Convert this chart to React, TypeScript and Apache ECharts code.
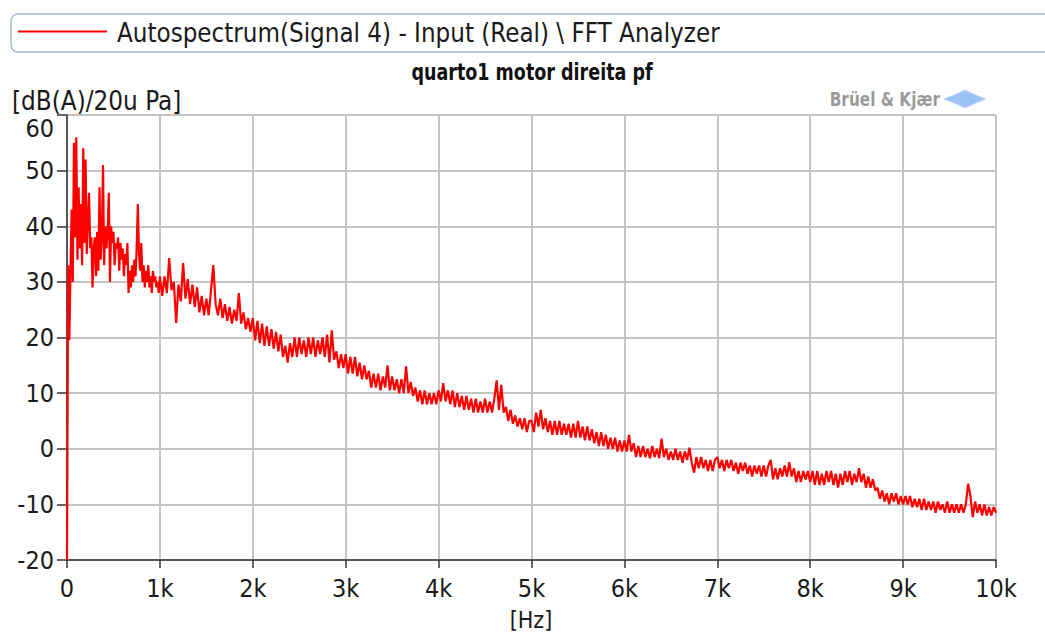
import React, { useEffect, useRef } from "react";
import * as echarts from "echarts";

const FONT = "'DejaVu Sans Condensed', 'DejaVu Sans', sans-serif";

// 0 – 1 kHz, 12.5 Hz resolution
const lowStep = 12.5;
const lowBand = [
  -20, 33, 19.5, 32, 43, 30, 55, 38, 56, 34, 47, 36, 44, 33, 54, 37, 52, 35, 41, 46,
  36, 38, 29, 36, 38, 31, 39, 32, 47, 34, 38, 51, 33, 40, 36, 39, 46, 30, 40, 37,
  39, 33, 37, 36, 38, 32, 37, 34, 36, 31, 35, 33, 37, 28, 32, 29, 33, 30, 34, 31,
  36, 44, 35, 32, 37, 30, 33, 29, 32, 30, 33, 29, 31, 28, 32, 30, 31, 29, 30, 28,
];

// 1 kHz – 10 kHz, 25 Hz resolution, one array per kHz
const highStep = 25;
const band1k = [
  31, 27.5, 31, 28, 34.3, 28.5, 30, 22.6, 29.5, 26.5, 33.4, 27, 30.5, 26, 29.5, 25.5, 29, 24.5, 27.5, 24,
  27, 24, 28.5, 33, 26, 24, 27, 23.5, 26, 23, 25.5, 22.5, 25, 23, 28, 22.5, 24.5, 21.5, 23.5, 21,
];
const band2k = [
  23.5, 19.5, 23, 19, 22.5, 18.5, 22, 18.5, 21.5, 18, 21, 17.5, 20.5, 16.5, 18.5, 15.5, 19, 16.5, 20, 16.5,
  20, 17, 19.5, 16.5, 20, 17, 20, 16.5, 19.5, 17, 20, 16.5, 20.5, 15.5, 21.3, 16, 17.5, 14.5, 17, 14.5,
];
const band3k = [
  17, 13.5, 16.5, 13.5, 16.5, 13, 15.5, 12.5, 15, 12.5, 14, 11, 13.5, 11, 13.5, 10.5, 13, 11, 15, 10.5,
  13, 10.5, 12.5, 10, 12.5, 10, 14.8, 10, 12, 9.5, 11, 8.5, 10.5, 8, 10.5, 8, 10, 8, 10, 8,
];
const band4k = [
  10.5, 8.5, 11.8, 8.5, 10.5, 8, 10.5, 7.5, 10, 7.5, 9.5, 7, 9.5, 7, 9, 6.5, 9, 6.5, 8.5, 6.5,
  9, 6.5, 8.5, 6.5, 9, 12.3, 7, 11.5, 6.5, 7.5, 5, 7, 4.5, 6, 4, 5.5, 3.5, 5.5, 3, 5,
];
const band5k = [
  5, 3, 6.5, 4, 7, 3.5, 5.5, 3, 5, 2.5, 5, 2.5, 5, 2.5, 4.5, 2.5, 4.5, 2, 4.5, 2,
  5, 2, 4, 1.5, 4, 1.5, 3.5, 1, 3, 0.5, 3, 0.5, 2.5, 0, 2, 0, 2, -0.5, 1.5, -0.5,
];
const band6k = [
  1.5, -0.5, 2.5, -0.5, 1, -1.5, 0.5, -1.5, 0.5, -1.5, 0, -1.7, 0.5, -1.5, 0, -1.7, 1.8, -1.5, 0, -2,
  -0.5, -2, 0, -2, -0.5, -2.5, -0.5, -2, 0.2, -2.5, -4.3, -1.5, -3.5, -1.5, -3.5, -2, -4, -2, -4, -2,
];
const band7k = [
  -1.5, -3.5, -2, -4, -2, -3.5, -2, -4, -2.5, -4.5, -2.5, -4, -2.5, -4.5, -3, -5, -3, -4.5, -3, -5,
  -3, -5, -3, -2, -5.5, -3.5, -5.5, -3.5, -5, -3, -5, -2.4, -5, -3.5, -6, -4, -6, -4, -5.5, -4,
];
const band8k = [
  -6, -4, -6.5, -4, -6.5, -4.5, -6.5, -4, -6, -4, -6.5, -4.5, -7, -4.5, -6.5, -4, -6, -4, -6.5, -4.5,
  -6, -3.5, -6, -4.5, -7, -5, -7, -5.5, -7.5, -7, -9, -7.5, -9.5, -8, -10, -8, -9.5, -8, -10, -8.5,
];
const band9k = [
  -10, -8.5, -10, -8.5, -10.5, -9, -10.5, -9, -11, -9, -11, -9.5, -11, -9.5, -11.5, -9.5, -11, -10, -11.5, -9.5,
  -11.5, -10, -11.5, -10, -11.5, -10, -11.5, -10, -6.3, -8.5, -12.3, -9.5, -11.5, -10, -12, -10, -12, -10.5, -12, -10.5,
  -11.5,
];

const xTicks = ["0", "1k", "2k", "3k", "4k", "5k", "6k", "7k", "8k", "9k", "10k"];

const seriesName = "Autospectrum(Signal 4) - Input (Real) \\ FFT Analyzer";
const chartTitle = "quarto1 motor direita pf";
const yName = "[dB(A)/20u Pa]";
const xName = "[Hz]";

function buildData(): [number, number][] {
  const out: [number, number][] = [];
  lowBand.forEach((v, i) => out.push([i * lowStep, v]));
  const high = [band1k, band2k, band3k, band4k, band5k, band6k, band7k, band8k, band9k];
  high.forEach((band, b) => {
    band.forEach((v, i) => out.push([1000 * (b + 1) + i * highStep, v]));
  });
  return out;
}

export default function App() {
  const ref = useRef<HTMLDivElement>(null);
  useEffect(() => {
    if (!ref.current) return;
    document.body.style.margin = "0";
    document.body.style.overflow = "hidden";
    const chart = echarts.init(ref.current, undefined, { renderer: "svg" });
    const plotLeft = 67;
    const plotRight = 996;
    chart.setOption({
      animation: false,
      backgroundColor: "#ffffff",
      grid: { left: plotLeft, right: 1045 - plotRight, top: 115, bottom: 73, containLabel: false },
      graphic: [
        {
          type: "rect",
          shape: { x: 11, y: 14, width: 2000, height: 38, r: 7 },
          style: { fill: "#ffffff", stroke: "#a9bad2", lineWidth: 1.5 },
        },
        {
          type: "line",
          shape: { x1: 18, y1: 31.5, x2: 107, y2: 31.5 },
          style: { stroke: "#ff0000", lineWidth: 2 },
        },
        {
          type: "text",
          x: 117,
          y: 33,
          style: {
            text: seriesName,
            font: `25.7px ${FONT}`,
            fill: "#1a1a1a",
            verticalAlign: "middle",
          },
        },
        {
          type: "text",
          x: 532,
          y: 72,
          scaleY: 1.2,
          style: {
            text: chartTitle,
            font: `bold 19.5px ${FONT}`,
            fill: "#111",
            align: "center",
            verticalAlign: "middle",
          },
        },
        {
          type: "text",
          x: 12,
          y: 101,
          style: {
            text: yName,
            font: `25.8px ${FONT}`,
            fill: "#1a1a1a",
            verticalAlign: "middle",
          },
        },
        {
          type: "text",
          x: 531,
          y: 620,
          style: {
            text: xName,
            font: `23px ${FONT}`,
            fill: "#1a1a1a",
            align: "center",
            verticalAlign: "middle",
          },
        },
        {
          type: "text",
          x: 940,
          y: 99,
          scaleY: 1.1,
          style: {
            text: "Brüel & Kjær",
            font: `bold 17px ${FONT}`,
            fill: "#888888",
            align: "right",
            verticalAlign: "middle",
            opacity: 0.85,
          },
        },
        {
          type: "polygon",
          shape: { points: [[944, 99], [954, 95], [965, 90], [976, 95], [986, 99], [976, 103], [965, 108], [954, 103]] },
          style: { fill: "#9cc2f5", stroke: "#c2dafa", lineWidth: 1 },
        },
      ],
      xAxis: {
        type: "value",
        min: 0,
        max: 10000,
        interval: 1000,
        axisLine: { show: true, onZero: false, lineStyle: { color: "#333", width: 1.5 } },
        axisTick: { show: true, length: 8, lineStyle: { color: "#333", width: 1.5 } },
        axisLabel: {
          margin: 16,
          fontFamily: FONT,
          fontSize: 25,
          color: "#1a1a1a",
          formatter: (v: number) => xTicks[Math.round(v / 1000)] ?? "",
        },
        splitLine: { show: true, lineStyle: { color: "#c4c4c4", width: 2 } },
      },
      yAxis: {
        type: "value",
        min: -20,
        max: 60,
        interval: 10,
        axisLine: { show: true, onZero: false, lineStyle: { color: "#333", width: 1.5 } },
        axisTick: { show: true, length: 10, lineStyle: { color: "#333", width: 1.5 } },
        axisLabel: {
          margin: 13,
          fontFamily: FONT,
          fontSize: 25,
          color: "#1a1a1a",
          formatter: (v: number) => (v === 60 ? "{top|60}" : String(v)),
          rich: { top: { fontFamily: FONT, fontSize: 25, color: "#1a1a1a", padding: [26, 0, 0, 0] } },
        },
        splitLine: { show: true, lineStyle: { color: "#c4c4c4", width: 2 } },
      },
      series: [
        {
          name: seriesName,
          type: "line",
          data: buildData(),
          showSymbol: false,
          symbol: "none",
          lineStyle: { color: "#ff0000", width: 2.2 },
          itemStyle: { color: "#ff0000" },
          z: 5,
        },
      ],
    });
    return () => chart.dispose();
  }, []);
  return <div ref={ref} style={{ width: 1045, height: 633 }} />;
}
